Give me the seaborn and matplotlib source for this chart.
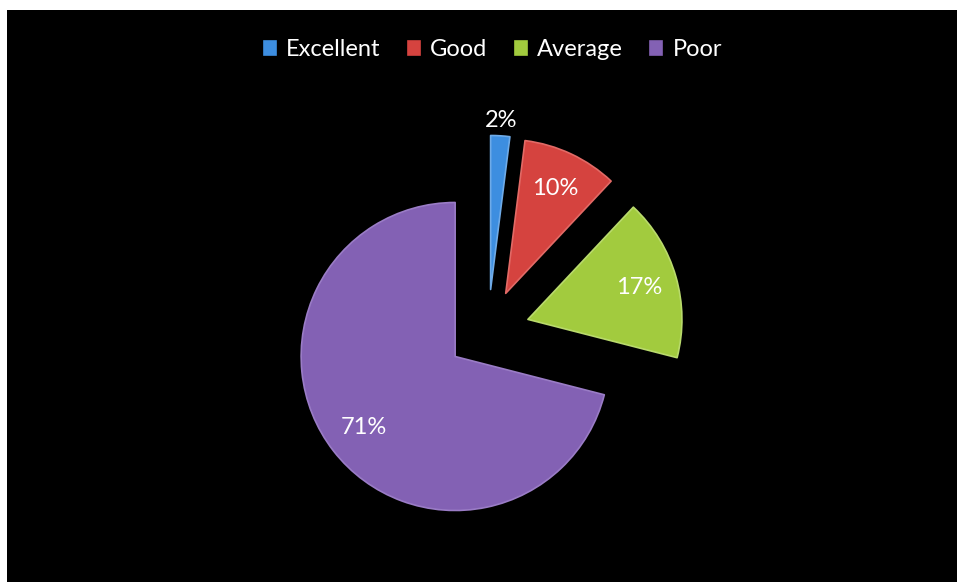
import matplotlib
matplotlib.use("Agg")
import matplotlib.pyplot as plt
import seaborn as sns
import numpy as np

# Rating distribution
categories = ["Excellent", "Good", "Average", "Poor"]
shares = [2, 10, 17, 71]

colors = ["#3d8ee0", "#d5433f", "#a2cb3e", "#8361b4"]
edge_colors = ["#6fabe8", "#e26a66", "#b9da6c", "#9a7cc6"]

sns.set_theme(style="white")
plt.rcParams["font.family"] = ["Lato", "DejaVu Sans"]

W, H = 957, 582
fig = plt.figure(figsize=(W / 100, H / 100), dpi=100, facecolor="white")

# black chart area
bg = fig.add_axes([7 / W, 0, (W - 7) / W, (H - 10) / H])
bg.set_facecolor("black")
bg.set_xticks([])
bg.set_yticks([])
for s in bg.spines.values():
    s.set_visible(False)

# pie axes: 1 data unit = 154 px, centre at (488, 331) px from top-left
scale = 154
half = 1.5
side = 2 * half * scale
cx, cy = 488, H - 331
ax = fig.add_axes([(cx - side / 2) / W, (cy - side / 2) / H, side / W, side / H])
ax.set_facecolor("none")

wedges, texts, autotexts = ax.pie(
    shares,
    explode=[0.27] * len(shares),
    colors=colors,
    startangle=90,
    counterclock=False,
    autopct=lambda p: f"{p:.0f}%",
    pctdistance=0.75,
    textprops=dict(color="white", fontsize=17),
    wedgeprops=dict(linewidth=1.2),
)
for w, ec in zip(wedges, edge_colors):
    w.set_edgecolor(ec)
    w.set_joinstyle("round")

# the thinnest slice gets its label just outside the rim
w0 = wedges[0]
mid = np.deg2rad((w0.theta1 + w0.theta2) / 2)
autotexts[0].set_position((w0.center[0] + 1.1 * np.cos(mid),
                           w0.center[1] + 1.1 * np.sin(mid)))

ax.set_xlim(-half, half)
ax.set_ylim(-half, half)
ax.set_aspect("equal")
ax.axis("off")

leg = fig.legend(
    wedges, categories,
    loc="center", bbox_to_anchor=(493 / W, 1 - 50 / H),
    ncol=4, frameon=False,
    fontsize=17, labelcolor="white",
    handlelength=0.5, handleheight=0.5,
    handletextpad=0.45, columnspacing=1.15,
)
for h, c in zip(leg.legend_handles, colors):
    h.set_edgecolor(c)

fig.savefig("out.png", dpi=100, facecolor=fig.get_facecolor())
